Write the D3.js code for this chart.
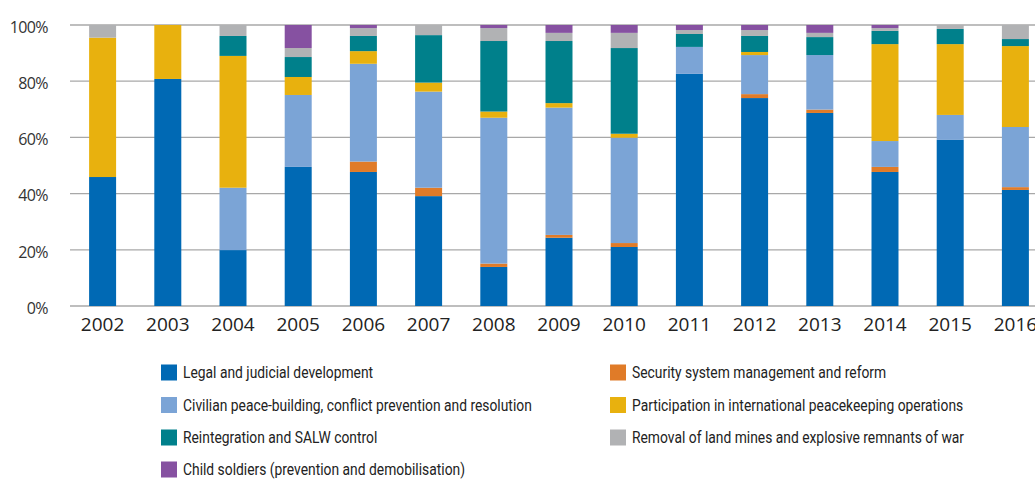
<!DOCTYPE html>
<html>
<head>
<meta charset="utf-8">
<script src="https://cdn.jsdelivr.net/npm/d3@7"></script>
<style>
  body { margin: 0; background: #fff; }
  svg { display: block; }
</style>
</head>
<body>
<svg id="chart" width="1035" height="479"></svg>
<script>
// years on the x axis
const years = ['2002', '2003', '2004', '2005', '2006', '2007', '2008', '2009',
    '2010', '2011', '2012', '2013', '2014', '2015', '2016'];

// share of each category per year, in percent (bottom to top of the stack)
const legal = [45.9, 80.8, 19.9, 49.5, 47.7, 39.1, 13.9, 24.3, 21.0, 82.6, 74.0, 68.7, 47.7, 59.1, 41.3];
const security = [0, 0, 0, 0, 3.7, 3.0, 1.2, 1.0, 1.4, 0, 1.4, 1.2, 1.8, 0, 1.0];
const civilian = [0, 0, 22.2, 25.6, 34.8, 34.2, 51.9, 45.3, 37.5, 9.6, 13.9, 19.4, 9.2, 8.9, 21.4];
const peacekeeping = [49.6, 19.2, 46.9, 6.4, 4.5, 3.2, 2.2, 1.6, 1.4, 0, 1.1, 0, 34.5, 25.2, 28.8];
const reintegration = [0, 0, 7.1, 7.1, 5.4, 16.9, 25.1, 22.1, 30.5, 4.6, 5.7, 6.4, 4.7, 5.4, 2.5];
const landmines = [4.5, 0, 3.9, 3.2, 2.8, 3.6, 4.6, 2.9, 5.4, 1.4, 2.1, 1.5, 1.0, 1.4, 5.0];
const childSoldiers = [0, 0, 0, 8.2, 1.1, 0, 1.1, 2.8, 2.8, 1.8, 1.8, 2.8, 1.1, 0, 0];

const series = [
    { key: 'legal', name: 'Legal and judicial development', color: '#0069b4', values: legal },
    { key: 'security', name: 'Security system management and reform', color: '#e07b28', values: security },
    { key: 'civilian', name: 'Civilian peace-building, conflict prevention and resolution', color: '#7ba4d6', values: civilian },
    { key: 'peacekeeping', name: 'Participation in international peacekeeping operations', color: '#e8b10e', values: peacekeeping },
    { key: 'reintegration', name: 'Reintegration and SALW control', color: '#00808b', values: reintegration },
    { key: 'landmines', name: 'Removal of land mines and explosive remnants of war', color: '#b1b2b4', values: landmines },
    { key: 'child', name: 'Child soldiers (prevention and demobilisation)', color: '#8651a1', values: childSoldiers },
];

const yTicks = [0, 20, 40, 60, 80, 100];

// legend order as laid out in the picture (two columns)
const legendOrder = ['legal', 'security', 'civilian', 'peacekeeping', 'reintegration', 'landmines', 'child'];

const svg = d3.select('#chart');

const margin = { left: 70, right: -13, top: 25, bottom: 173 };
const width = 1035 - margin.left - margin.right;
const height = 479 - margin.top - margin.bottom;

const table = years.map((y, i) => {
    const row = { year: y };
    series.forEach(s => { row[s.key] = s.values[i]; });
    return row;
});

const stack = d3.stack().keys(series.map(s => s.key));
const layers = stack(table);

const x = d3.scaleBand()
    .domain(years)
    .range([0, width])
    .paddingInner(0.586)
    .paddingOuter(0.293);

const y = d3.scaleLinear()
    .domain([0, 100])
    .range([height, 0]);

const g = svg.append('g')
    .attr('transform', `translate(${margin.left},${margin.top})`);

// grid lines
g.append('g')
    .selectAll('line')
    .data(yTicks)
    .join('line')
    .attr('x1', 0)
    .attr('x2', width)
    .attr('y1', d => y(d))
    .attr('y2', d => y(d))
    .attr('stroke', '#a8a8a8')
    .attr('stroke-width', 1.3);

// y labels
const yAxis = g.append('g')
    .call(d3.axisLeft(y).tickValues(yTicks).tickFormat(d => d + '%').tickSize(0).tickPadding(22));
yAxis.select('.domain').remove();
yAxis.selectAll('text')
    .attr('font-family', '"Open Sans", sans-serif')
    .attr('font-size', 16)
    .attr('letter-spacing', -0.6)
    .attr('fill', '#333')
    .attr('dy', '0.45em');

// bars
const colorOf = {};
series.forEach(s => { colorOf[s.key] = s.color; });

g.append('g')
    .selectAll('g')
    .data(layers)
    .join('g')
    .attr('fill', d => colorOf[d.key])
    .selectAll('rect')
    .data(d => d)
    .join('rect')
    .attr('x', d => x(d.data.year))
    .attr('width', x.bandwidth())
    .attr('y', d => y(d[1]))
    .attr('height', d => y(d[0]) - y(d[1]));

// x labels
const xAxis = g.append('g')
    .attr('transform', `translate(0,${height})`)
    .call(d3.axisBottom(x).tickSize(0).tickPadding(12));
xAxis.select('.domain').remove();
xAxis.selectAll('text')
    .attr('font-family', '"Open Sans", sans-serif')
    .attr('font-size', 19)
    .attr('fill', '#222');

// legend
const legend = svg.append('g');
const colX = [161, 610];
const rowY = [372.5, 405, 437.5, 469.5];

legendOrder.forEach((key, i) => {
    const s = series.find(d => d.key === key);
    const item = legend.append('g')
        .attr('transform', `translate(${colX[i % 2]},${rowY[Math.floor(i / 2)]})`);
    item.append('rect')
        .attr('x', 0)
        .attr('y', -8)
        .attr('width', 16)
        .attr('height', 16)
        .attr('fill', s.color);
    // condensed look: no narrow face installed, so squeeze horizontally
    item.append('text')
        .attr('transform', 'translate(22,0) scale(0.84,1)')
        .attr('dy', '0.34em')
        .attr('font-family', 'Roboto, sans-serif')
        .attr('font-size', 16.5)
        .attr('fill', '#222')
        .text(s.name);
});
</script>
</body>
</html>
